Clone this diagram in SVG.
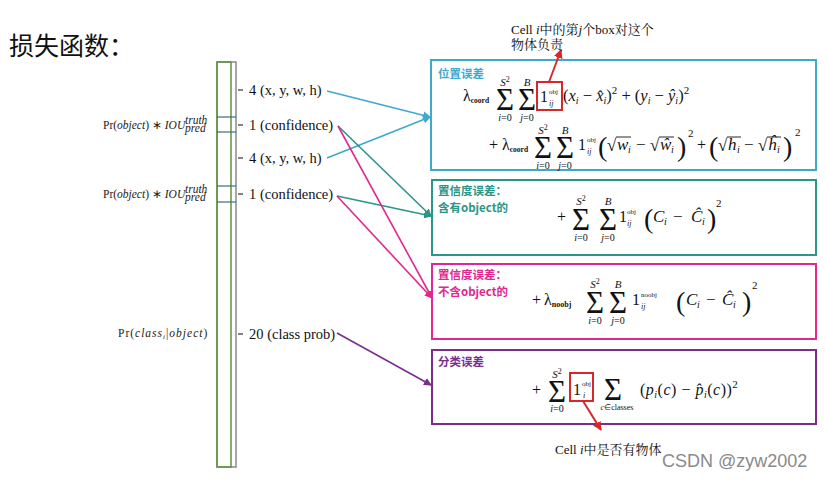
<svg xmlns="http://www.w3.org/2000/svg" width="825" height="480" viewBox="0 0 825 480">
<style>
.m{font-family:"Liberation Serif","Times New Roman",serif;fill:#111}
.it{font-style:italic}
.lbl{font-family:"Liberation Serif",serif;font-size:14.5px;fill:#111}
.ll{font-family:"Liberation Serif",serif;font-size:11.5px;fill:#222}
.sig{font-family:"Liberation Serif",serif;font-size:31px;fill:#111}
.sm{font-family:"Liberation Serif",serif;font-size:10px;fill:#111}
.cjk{font-family:"Noto Sans CJK SC","Noto Sans CJK JP",sans-serif;font-weight:bold;font-size:11.5px}
.ann{font-family:"Liberation Serif","Noto Serif CJK SC","Noto Sans CJK SC",serif;font-size:13px;fill:#111}
.box{fill:none;stroke-width:2}
.red{fill:none;stroke:#D9262B;stroke-width:2}
</style>
<defs>
<marker id="ac" markerWidth="8" markerHeight="8" refX="7" refY="4" orient="auto" markerUnits="userSpaceOnUse"><path d="M0,0 L8,4 L0,8 z" fill="#3FA9CC"/></marker>
<marker id="at" markerWidth="8" markerHeight="8" refX="7" refY="4" orient="auto" markerUnits="userSpaceOnUse"><path d="M0,0 L8,4 L0,8 z" fill="#2A9688"/></marker>
<marker id="am" markerWidth="8" markerHeight="8" refX="7" refY="4" orient="auto" markerUnits="userSpaceOnUse"><path d="M0,0 L8,4 L0,8 z" fill="#E0288F"/></marker>
<marker id="ap" markerWidth="8" markerHeight="8" refX="7" refY="4" orient="auto" markerUnits="userSpaceOnUse"><path d="M0,0 L8,4 L0,8 z" fill="#7B2D8E"/></marker>
<marker id="ar" markerWidth="9" markerHeight="9" refX="8" refY="4.5" orient="auto" markerUnits="userSpaceOnUse"><path d="M0,0 L9,4.5 L0,9 z" fill="#D9262B"/></marker>
</defs>
<rect width="825" height="480" fill="#fff"/>

<text x="9" y="55" font-family="Noto Sans CJK SC, sans-serif" font-size="25" fill="#111">损失函数：</text>

<g id="bar">
<rect x="217" y="62" width="19" height="405" fill="none" stroke="#8a8a8a" stroke-width="1.5"/>
<rect x="217" y="62" width="14" height="405" fill="none" stroke="#5E9440" stroke-width="1.5"/>
<g stroke="#3d6a86" stroke-width="1.2">
<line x1="217" y1="117" x2="236" y2="117"/><line x1="217" y1="132" x2="236" y2="132"/>
<line x1="217" y1="186" x2="236" y2="186"/><line x1="217" y1="202" x2="236" y2="202"/>
</g>
<g stroke="#333" stroke-width="1.2">
<line x1="238" y1="90" x2="243" y2="90"/><line x1="238" y1="125" x2="243" y2="125"/>
<line x1="238" y1="158" x2="243" y2="158"/><line x1="238" y1="194" x2="243" y2="194"/>
<line x1="238" y1="334" x2="243" y2="334"/>
</g>
<text class="lbl" x="249" y="95">4 (x, y, w, h)</text>
<text class="lbl" x="249" y="130">1 (confidence)</text>
<text class="lbl" x="249" y="163">4 (x, y, w, h)</text>
<text class="lbl" x="249" y="199">1 (confidence)</text>
<text class="lbl" x="249" y="339">20 (class prob)</text>
<text class="ll" x="103" y="129">Pr(<tspan class="it">object</tspan>) ∗ <tspan class="it">IOU</tspan></text>
<text class="ll it" x="185" y="124" font-size="8.5">truth</text>
<text class="ll it" x="185" y="132" font-size="8.5">pred</text>
<text class="ll" x="103" y="198">Pr(<tspan class="it">object</tspan>) ∗ <tspan class="it">IOU</tspan></text>
<text class="ll it" x="185" y="193" font-size="8.5">truth</text>
<text class="ll it" x="185" y="201" font-size="8.5">pred</text>
<text class="ll" x="118" y="337" font-size="12" letter-spacing="1">Pr(<tspan class="it">class</tspan><tspan class="it" font-size="7" dy="2">i</tspan><tspan dy="-2">|</tspan><tspan class="it">object</tspan>)</text>
</g>

<g id="connectors" fill="none" stroke-width="1.6">
<line x1="327" y1="91" x2="430" y2="117" stroke="#3FA9CC" marker-end="url(#ac)"/>
<line x1="327" y1="158" x2="430" y2="117" stroke="#3FA9CC" marker-end="url(#ac)"/>
<line x1="338" y1="126" x2="431" y2="216" stroke="#2A9688" marker-end="url(#at)"/>
<line x1="337" y1="196" x2="431" y2="216" stroke="#2A9688" marker-end="url(#at)"/>
<line x1="338" y1="126" x2="432" y2="298" stroke="#E0288F" marker-end="url(#am)"/>
<line x1="337" y1="196" x2="432" y2="298" stroke="#E0288F" marker-end="url(#am)"/>
<line x1="337" y1="333" x2="431" y2="385" stroke="#7B2D8E" marker-end="url(#ap)"/>
</g>

<g id="box-location">
<rect class="box" x="431" y="60" width="385" height="110" stroke="#3FA9CC"/>
<text class="cjk" x="438" y="78" fill="#3FA9CC">位置误差</text>
<text class="m" x="463" y="101" font-size="16">λ<tspan font-size="7.5" font-weight="bold" dy="2">coord</tspan></text>
<text class="sig" x="496" y="110">Σ</text>
<text class="m it" x="505" y="86" font-size="11" text-anchor="middle">S<tspan font-style="normal" font-size="8" dy="-4">2</tspan></text>
<text class="sm" x="505" y="121" text-anchor="middle"><tspan font-style="italic">i</tspan>=0</text>
<text class="sig" x="518" y="110">Σ</text>
<text class="m it" x="527" y="86" font-size="11" text-anchor="middle">B</text>
<text class="sm" x="527" y="121" text-anchor="middle"><tspan font-style="italic">j</tspan>=0</text>
<text class="m" x="540" y="102" font-size="16">1</text>
<text class="m" x="549" y="94" font-size="7">obj</text>
<text class="m it" x="549" y="106" font-size="8">ij</text>
<text class="m" x="563" y="101" font-size="16.5">(<tspan class="it">x</tspan><tspan class="it" font-size="10" dy="3">i</tspan><tspan dy="-3"> − </tspan><tspan class="it">x̂</tspan><tspan class="it" font-size="10" dy="3">i</tspan><tspan dy="-3">)</tspan><tspan font-size="11" dy="-7">2</tspan><tspan dy="7"> + (</tspan><tspan class="it">y</tspan><tspan class="it" font-size="10" dy="3">i</tspan><tspan dy="-3"> − </tspan><tspan class="it">ŷ</tspan><tspan class="it" font-size="10" dy="3">i</tspan><tspan dy="-3">)</tspan><tspan font-size="11" dy="-7">2</tspan></text>

<text class="m" x="489" y="150" font-size="16">+</text>
<text class="m" x="502" y="150" font-size="16">λ<tspan font-size="7.5" font-weight="bold" dy="2">coord</tspan></text>
<text class="sig" x="534" y="158">Σ</text>
<text class="m it" x="543" y="134" font-size="11" text-anchor="middle">S<tspan font-style="normal" font-size="8" dy="-4">2</tspan></text>
<text class="sm" x="543" y="169" text-anchor="middle"><tspan font-style="italic">i</tspan>=0</text>
<text class="sig" x="556" y="158">Σ</text>
<text class="m it" x="565" y="134" font-size="11" text-anchor="middle">B</text>
<text class="sm" x="565" y="169" text-anchor="middle"><tspan font-style="italic">j</tspan>=0</text>
<text class="m" x="578" y="150" font-size="16">1</text>
<text class="m" x="587" y="142" font-size="7">obj</text>
<text class="m it" x="587" y="154" font-size="8">ij</text>
<text class="m" x="598" y="156" font-size="28">(</text>
<text class="m" x="607" y="151" font-size="17">√</text>
<text class="m it" x="617" y="150" font-size="17">w</text>
<text class="m it" x="628" y="153" font-size="10">i</text>
<text class="m" x="636" y="150" font-size="17">−</text>
<text class="m" x="650" y="151" font-size="17">√</text>
<text class="m it" x="660" y="150" font-size="17">ŵ</text>
<text class="m it" x="671" y="153" font-size="10">i</text>
<text class="m" x="677" y="156" font-size="28">)</text>
<text class="m" x="688" y="137" font-size="11">2</text>
<text class="m" x="697" y="150" font-size="16">+</text>
<text class="m" x="709" y="156" font-size="28">(</text>
<text class="m" x="718" y="151" font-size="17">√</text>
<text class="m it" x="728" y="150" font-size="17">h</text>
<text class="m it" x="737" y="153" font-size="10">i</text>
<text class="m" x="744" y="150" font-size="17">−</text>
<text class="m" x="758" y="151" font-size="17">√</text>
<text class="m it" x="768" y="150" font-size="17">ĥ</text>
<text class="m it" x="777" y="153" font-size="10">i</text>
<text class="m" x="783" y="156" font-size="28">)</text>
<text class="m" x="795" y="136" font-size="11">2</text>
<g stroke="#111" stroke-width="0.9">
<line x1="616" y1="137" x2="631" y2="137"/><line x1="659" y1="137" x2="674" y2="137"/>
<line x1="727" y1="137" x2="741" y2="137"/><line x1="767" y1="137" x2="781" y2="137"/>
</g>
</g>

<g id="box-conf-obj">
<rect class="box" x="432" y="180" width="384" height="75" stroke="#2A9688"/>
<text class="cjk" x="438" y="195" fill="#2A9688">置信度误差：</text>
<text class="cjk" x="438" y="212" fill="#2A9688">含有object的</text>
<text class="m" x="557" y="222" font-size="16">+</text>
<text class="sig" x="572" y="230">Σ</text>
<text class="m it" x="581" y="205" font-size="11" text-anchor="middle">S<tspan font-style="normal" font-size="8" dy="-4">2</tspan></text>
<text class="sm" x="581" y="241" text-anchor="middle"><tspan font-style="italic">i</tspan>=0</text>
<text class="sig" x="599" y="230">Σ</text>
<text class="m it" x="608" y="205" font-size="11" text-anchor="middle">B</text>
<text class="sm" x="608" y="241" text-anchor="middle"><tspan font-style="italic">j</tspan>=0</text>
<text class="m" x="619" y="222" font-size="16">1</text>
<text class="m" x="627" y="214" font-size="7">obj</text>
<text class="m it" x="627" y="226" font-size="8">ij</text>
<text class="m" x="644" y="228" font-size="28">(</text>
<text class="m it" x="653" y="222" font-size="17">C</text>
<text class="m it" x="664" y="225" font-size="10">i</text>
<text class="m" x="673" y="222" font-size="17">−</text>
<text class="m it" x="691" y="222" font-size="17">Ĉ</text>
<text class="m it" x="702" y="225" font-size="10">i</text>
<text class="m" x="707" y="228" font-size="28">)</text>
<text class="m" x="716" y="207" font-size="11">2</text>
</g>

<g id="box-conf-noobj">
<rect class="box" x="432" y="264" width="384" height="75" stroke="#E0288F"/>
<text class="cjk" x="438" y="279" fill="#E0288F">置信度误差：</text>
<text class="cjk" x="438" y="296" fill="#E0288F">不含object的</text>
<text class="m" x="532" y="305" font-size="16">+</text>
<text class="m" x="544" y="305" font-size="16">λ<tspan font-size="8" font-weight="bold" dy="2">noobj</tspan></text>
<text class="sig" x="586" y="313">Σ</text>
<text class="m it" x="595" y="288" font-size="11" text-anchor="middle">S<tspan font-style="normal" font-size="8" dy="-4">2</tspan></text>
<text class="sm" x="595" y="324" text-anchor="middle"><tspan font-style="italic">i</tspan>=0</text>
<text class="sig" x="609" y="313">Σ</text>
<text class="m it" x="618" y="288" font-size="11" text-anchor="middle">B</text>
<text class="sm" x="618" y="324" text-anchor="middle"><tspan font-style="italic">j</tspan>=0</text>
<text class="m" x="632" y="305" font-size="16">1</text>
<text class="m" x="641" y="297" font-size="7">noobj</text>
<text class="m it" x="641" y="309" font-size="8">ij</text>
<text class="m" x="676" y="311" font-size="28">(</text>
<text class="m it" x="686" y="305" font-size="17">C</text>
<text class="m it" x="697" y="308" font-size="10">i</text>
<text class="m" x="706" y="305" font-size="17">−</text>
<text class="m it" x="722" y="305" font-size="17">Ĉ</text>
<text class="m it" x="733" y="308" font-size="10">i</text>
<text class="m" x="742" y="311" font-size="28">)</text>
<text class="m" x="752" y="289" font-size="11">2</text>
</g>

<g id="box-class">
<rect class="box" x="432" y="350" width="384" height="74" stroke="#7B2D8E"/>
<text class="cjk" x="438" y="366" fill="#7B2D8E">分类误差</text>
<text class="m" x="532" y="395" font-size="16">+</text>
<text class="sig" x="548" y="402">Σ</text>
<text class="m it" x="557" y="378" font-size="11" text-anchor="middle">S<tspan font-style="normal" font-size="8" dy="-4">2</tspan></text>
<text class="sm" x="557" y="412" text-anchor="middle"><tspan font-style="italic">i</tspan>=0</text>
<text class="m" x="573" y="395" font-size="16">1</text>
<text class="m" x="582" y="386" font-size="7">obj</text>
<text class="m it" x="583" y="398" font-size="8">i</text>
<text class="sig" x="604" y="400" font-size="28">Σ</text>
<text class="m" x="617" y="410" font-size="8" text-anchor="middle"><tspan class="it">c</tspan>∈classes</text>
<text class="m" x="640" y="395" font-size="16" letter-spacing="0.5">(<tspan class="it">p</tspan><tspan class="it" font-size="10" dy="3">i</tspan><tspan dy="-3">(</tspan><tspan class="it">c</tspan>) − <tspan class="it">p̂</tspan><tspan class="it" font-size="10" dy="3">i</tspan><tspan dy="-3">(</tspan><tspan class="it">c</tspan>))<tspan font-size="11" dy="-7">2</tspan></text>
</g>

<g id="annotations">
<rect class="red" x="537" y="82" width="25" height="28"/>
<line class="red" x1="549" y1="82" x2="561" y2="50" marker-end="url(#ar)"/>
<text class="ann" x="511" y="34">Cell <tspan font-style="italic">i</tspan>中的第<tspan font-style="italic">j</tspan>个box对这个</text>
<text class="ann" x="511" y="49">物体负责</text>
<rect class="red" x="570" y="373" width="23" height="28"/>
<line class="red" x1="583" y1="401" x2="601" y2="430" marker-end="url(#ar)"/>
<text class="ann" x="555" y="454">Cell <tspan font-style="italic">i</tspan>中是否有物体</text>
</g>

<text x="662" y="467" font-family="Liberation Sans, Arial, sans-serif" font-size="18" fill="#8a8a8a">CSDN @zyw2002</text>
</svg>
